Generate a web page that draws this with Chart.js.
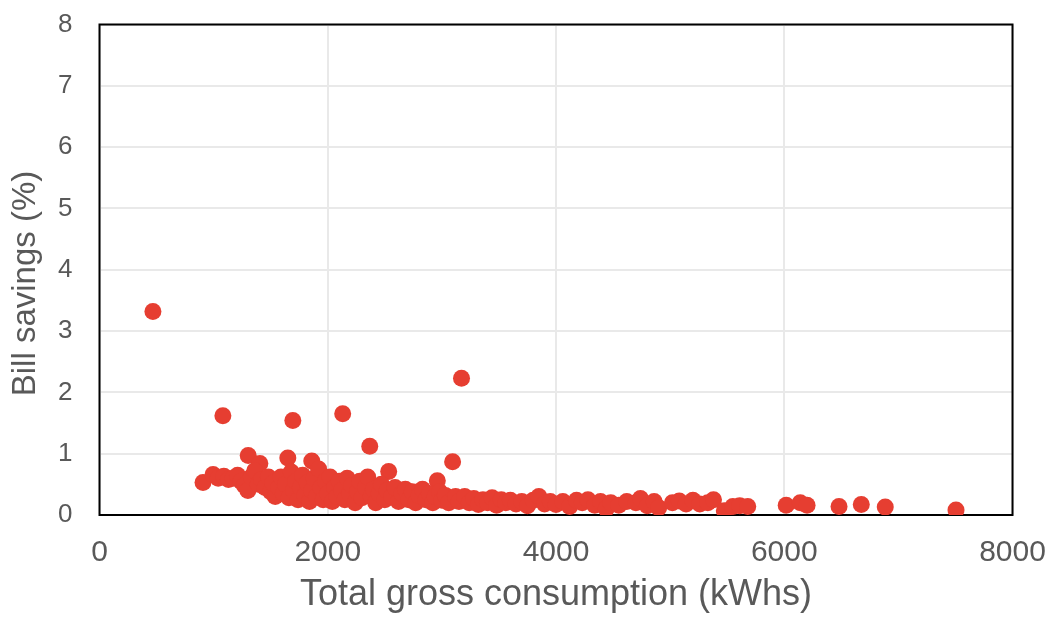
<!DOCTYPE html>
<html>
<head>
<meta charset="utf-8">
<script src="https://cdn.jsdelivr.net/npm/chart.js@4"></script>
<style>
    html, body { margin: 0; padding: 0; background: #fff; }
    #wrap { width: 1047px; height: 617px; }
</style>
</head>
<body>
<div id="wrap"><canvas id="chartSavings"></canvas></div>
<script>
// Dados (kWh, %)
const consumption = [
    468, 1081, 1694, 2131, 2368, 3172,
    1303, 1650, 1860, 3094, 1405, 2534, 2960, 907, 995,
    1040, 1090, 1130, 1170, 1210, 1240, 1270, 1300, 1330, 1360, 1390, 1420, 1450, 1480, 1500,
    1520, 1540, 1570, 1590, 1610, 1630, 1660, 1680, 1700, 1720, 1740, 1760, 1780, 1800, 1820, 1840, 1860, 1880, 1900, 1920, 1940, 1960, 1980, 2000,
    2020, 2040, 2060, 2080, 2100, 2120, 2150, 2170, 2190, 2210, 2240, 2260, 2280, 2300, 2330, 2350, 2380, 2400, 2420, 2450, 2470, 2500,
    2520, 2560, 2590, 2620, 2650, 2680, 2710, 2740, 2770, 2800, 2830, 2860, 2890, 2920, 2940, 2980, 3000,
    3030, 3060, 3120, 3150, 3200, 3240, 3280, 3320, 3360, 3400, 3440, 3480, 3520, 3560, 3600,
    3650, 3700, 3750, 3800, 3850, 3900, 3950, 4000, 4060, 4120, 4180, 4230, 4280, 4340, 4390, 4440, 4480,
    4550, 4620, 4700, 4740, 4800, 4860, 4900, 5020, 5080, 5140, 5200, 5260, 5330, 5380, 5475, 5550, 5610, 5680,
    6017, 6140, 6200, 6480, 6675, 6885, 7505
];
const savings = [
    3.32, 1.62, 1.54, 1.65, 1.12, 2.23,
    0.97, 0.93, 0.88, 0.87, 0.84, 0.71, 0.56, 0.53, 0.66,
    0.60, 0.63, 0.58, 0.60, 0.65, 0.55, 0.48, 0.40, 0.62, 0.72, 0.50, 0.58, 0.45, 0.62, 0.38,
    0.52, 0.30, 0.45, 0.62, 0.35, 0.50, 0.28, 0.70, 0.40, 0.55, 0.25, 0.45, 0.65, 0.32, 0.52, 0.22, 0.40, 0.60, 0.30, 0.75, 0.45, 0.25, 0.55, 0.35,
    0.62, 0.22, 0.45, 0.30, 0.55, 0.40, 0.25, 0.60, 0.35, 0.48, 0.20, 0.38, 0.55, 0.28, 0.45, 0.62, 0.30, 0.42, 0.20, 0.35, 0.50, 0.25,
    0.40, 0.30, 0.45, 0.22, 0.35, 0.42, 0.25, 0.38, 0.20, 0.32, 0.42, 0.25, 0.35, 0.20, 0.30, 0.38, 0.24,
    0.32, 0.20, 0.30, 0.22, 0.30, 0.20, 0.27, 0.17, 0.25, 0.20, 0.28, 0.16, 0.25, 0.20, 0.24,
    0.18, 0.22, 0.15, 0.24, 0.30, 0.18, 0.22, 0.17, 0.22, 0.14, 0.24, 0.20, 0.25, 0.16, 0.22, 0.10, 0.20,
    0.16, 0.22, 0.20, 0.27, 0.15, 0.22, 0.12, 0.20, 0.23, 0.18, 0.24, 0.18, 0.20, 0.25, 0.07, 0.14, 0.15, 0.14,
    0.16, 0.20, 0.16, 0.14, 0.17, 0.13, 0.08
];
const xTicks = [0, 2000, 4000, 6000, 8000];
const yTicks = [0, 1, 2, 3, 4, 5, 6, 7, 8];

const textColor = '#595959';
const gridColor = '#e9e9e9';

// Moldura preta em volta da área do gráfico
const frame = {
    id: 'frame',
    beforeDatasetsDraw(chart) {
        const { ctx, chartArea: a } = chart;
        ctx.save();
        ctx.strokeStyle = '#000';
        ctx.lineWidth = 2;
        ctx.strokeRect(a.left, a.top, a.right - a.left, a.bottom - a.top);
        ctx.restore();
    }
};

const pontos = consumption.map((c, i) => ({ x: c, y: savings[i] }));

new Chart(document.getElementById('chartSavings'), {
    type: 'scatter',
    data: {
        datasets: [{
            data: pontos,
            backgroundColor: '#e63e31',
            borderWidth: 0,
            pointRadius: 8.5,
            pointHoverRadius: 8.5
        }]
    },
    options: {
        responsive: true,
        maintainAspectRatio: false,
        animation: false,
        layout: { padding: { left: 0, top: 24.5, right: 34.5, bottom: 0 } },
        plugins: { legend: { display: false }, tooltip: { enabled: false } },
        scales: {
            x: {
                type: 'linear',
                min: 0,
                max: 8000,
                afterBuildTicks: axis => { axis.ticks = xTicks.map(v => ({ value: v })); },
                afterFit: axis => {
                    axis.height = 102;
                    axis.paddingLeft = 0;
                    axis.paddingRight = 0;
                },
                ticks: {
                    color: textColor,
                    font: { family: 'Liberation Sans, Arial', size: 30 },
                    padding: 20,
                    callback: v => String(v)
                },
                grid: { color: gridColor, lineWidth: 2, drawTicks: false },
                border: { display: false },
                title: {
                    display: true,
                    text: 'Total gross consumption (kWhs)',
                    color: textColor,
                    font: { family: 'Liberation Sans, Arial', size: 36 },
                    padding: { top: 0, bottom: 0 }
                }
            },
            y: {
                type: 'linear',
                min: 0,
                max: 8,
                afterBuildTicks: axis => { axis.ticks = yTicks.map(v => ({ value: v })); },
                afterFit: axis => {
                    axis.width = 99.5;
                    axis.paddingTop = 0;
                    axis.paddingBottom = 0;
                },
                ticks: {
                    color: textColor,
                    font: { family: 'Liberation Sans, Arial', size: 26 },
                    padding: 27,
                    callback: v => String(v)
                },
                grid: { color: gridColor, lineWidth: 2, drawTicks: false },
                border: { display: false },
                title: {
                    display: true,
                    text: 'Bill savings (%)   ',
                    color: textColor,
                    font: { family: 'Liberation Sans, Arial', size: 33 },
                    padding: { top: 6, bottom: 0 }
                }
            }
        }
    },
    plugins: [frame]
});
</script>
</body>
</html>
